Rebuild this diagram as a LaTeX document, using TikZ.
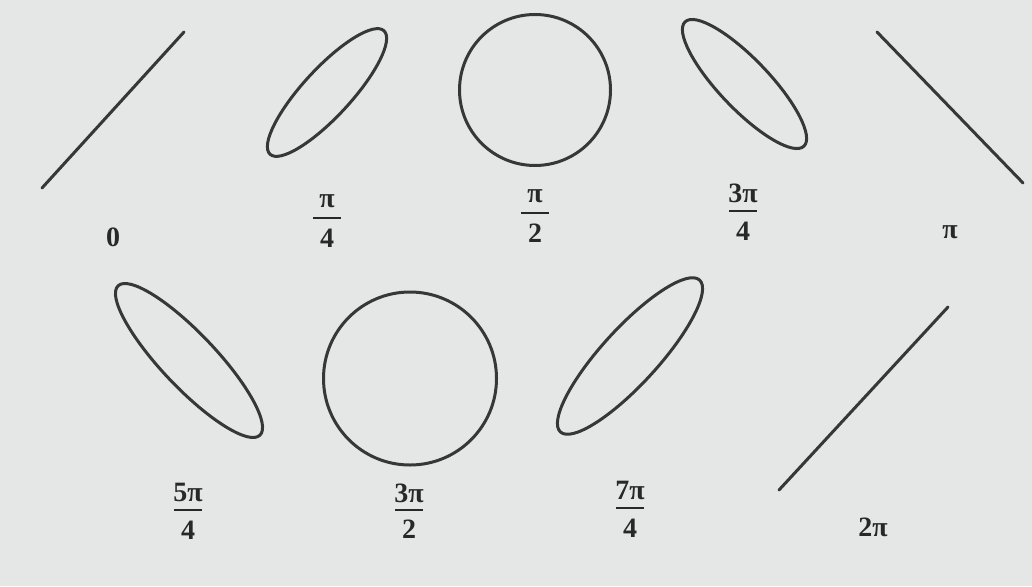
\documentclass[tikz,border=0pt]{standalone}
\usepackage{fontspec}
\setmainfont{Liberation Serif}
\definecolor{paper}{RGB}{229,231,231}
\definecolor{ink}{RGB}{55,55,55}
\definecolor{txt}{RGB}{40,40,40}
\tikzset{
  curve/.style={draw=ink, line width=3pt, line cap=round},
  lbl/.style={text=txt, inner sep=0pt, font=\fontsize{28}{32}\selectfont\bfseries},
  fracbar/.style={draw=txt, line width=2pt}
}
\newcommand{\fraclabel}[7]{% name, x, num y, bar y, den y, num, den
  \node[lbl] (#1n) at (#2,#3) {#6};
  \coordinate (#1l) at ([xshift=-14pt]#2,#4);
  \coordinate (#1r) at ([xshift=14pt]#2,#4);
  \draw[fracbar] (#1l) -- (#1r);
  \node[lbl] (#1d) at (#2,#5) {#7};
}
\begin{document}
\begin{tikzpicture}[x=1pt,y=-1pt]
\fill[paper] (0,0) rectangle (1032,586);
\useasboundingbox (0,0) rectangle (1032,586);

% row 1
\coordinate (a0) at (42,188);
\coordinate (b0) at (184,32);
\draw[curve] (a0) -- (b0);
\node[lbl] (l0) at (113,237) {0};

\coordinate (c1) at (327,92.5);
\draw[curve] (c1) ellipse [x radius=84pt, y radius=24pt, rotate=47.3];
\fraclabel{l1}{327}{201}{218}{238}{π}{4}

\coordinate (c2) at (535,90);
\draw[curve] (c2) circle [radius=75.5pt];
\fraclabel{l2}{535}{196}{213}{233}{π}{2}

\coordinate (c3) at (744.5,84);
\draw[curve] (c3) ellipse [x radius=86pt, y radius=25pt, rotate=-46.3];
\fraclabel{l3}{743}{193}{211}{231}{3π}{4}

\coordinate (a4) at (877,32);
\coordinate (b4) at (1023,183);
\draw[curve] (a4) -- (b4);
\node[lbl] (l4) at (950,232) {π};

% row 2
\coordinate (c5) at (189,360.5);
\draw[curve] (c5) ellipse [x radius=103pt, y radius=27pt, rotate=-46.5];
\fraclabel{l5}{188}{492}{510}{530}{5π}{4}

\coordinate (c6) at (410,378.5);
\draw[curve] (c6) circle [radius=86.5pt];
\fraclabel{l6}{409}{493}{510}{529}{3π}{2}

\coordinate (c7) at (630,356);
\draw[curve] (c7) ellipse [x radius=103pt, y radius=28pt, rotate=47.5];
\fraclabel{l7}{630}{490}{508}{528}{7π}{4}

\coordinate (a8) at (779,490);
\coordinate (b8) at (948,307);
\draw[curve] (a8) -- (b8);
\node[lbl] (l8) at (873,527) {2π};
\end{tikzpicture}
\end{document}
